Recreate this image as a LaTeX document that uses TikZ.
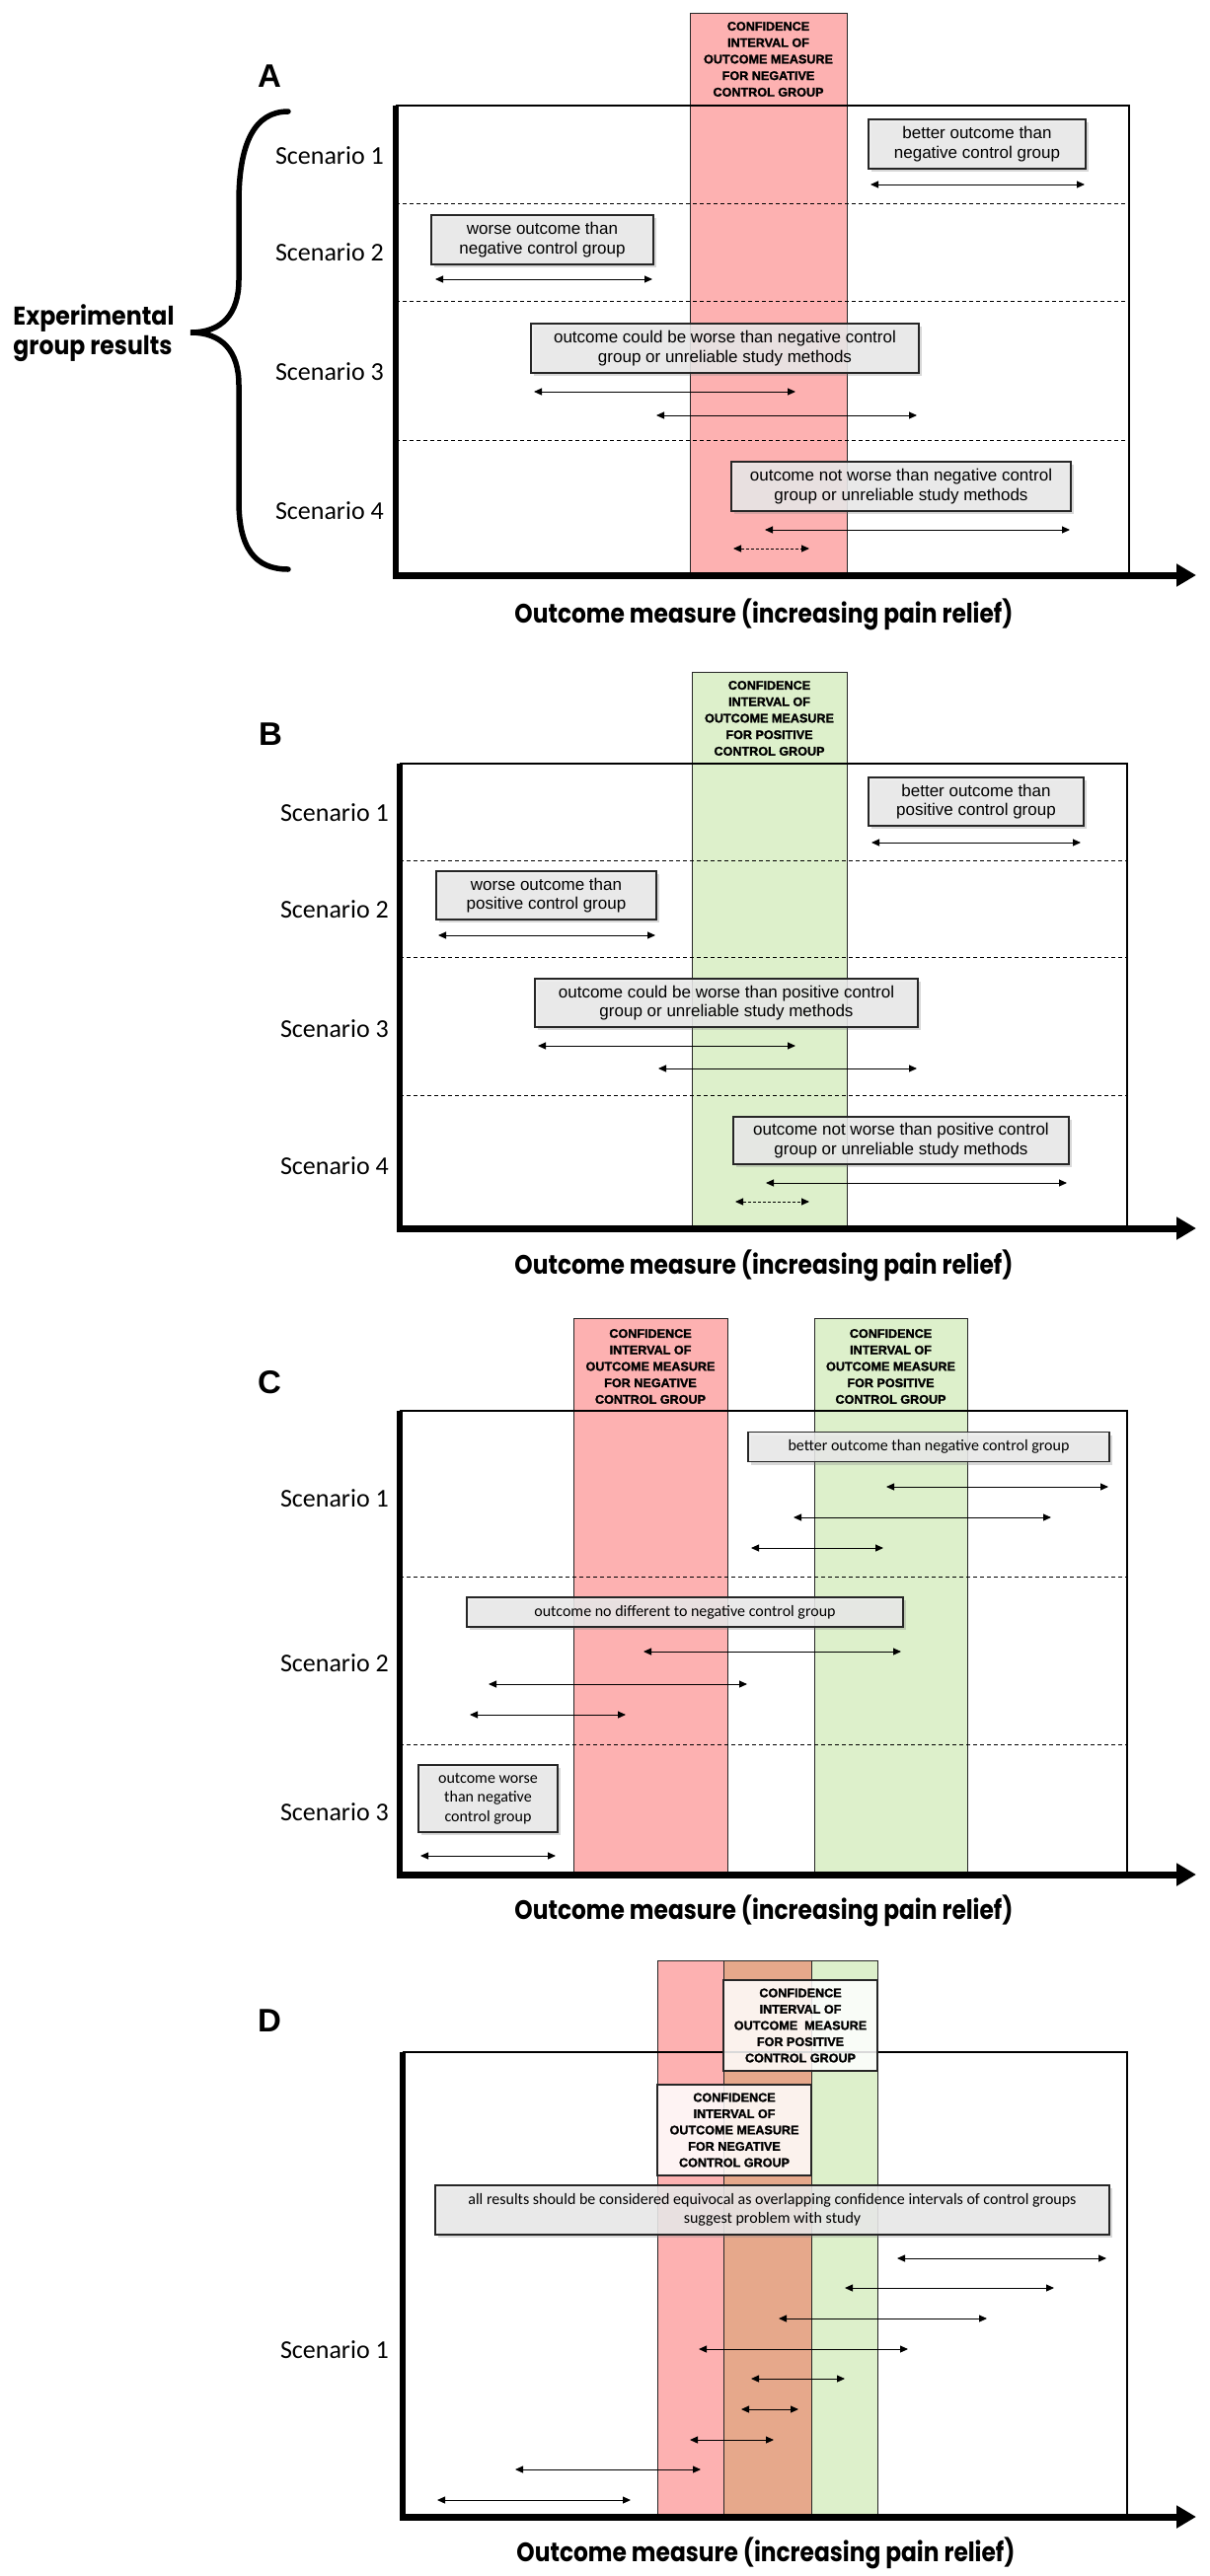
\documentclass[tikz,border=0pt]{standalone}
\usepackage{fontspec}
\usepackage{graphicx}
\setmainfont{Liberation Sans}
\newfontfamily\calfont{Carlito}
\newfontfamily\geofont{Poppins}
\newfontfamily\heavyfont{Liberation Sans}[BoldFeatures={FakeBold=1.6}]
\usetikzlibrary{arrows.meta,shadows}
\definecolor{negc}{HTML}{FDB1B1}
\definecolor{posc}{HTML}{DDF0CB}
\definecolor{ovlc}{HTML}{E6A88B}
\definecolor{boxc}{HTML}{ECECEC}
\newcommand\ivline[5][]{\coordinate (#2l) at (#3,#5); \coordinate (#2r) at (#4,#5); \draw[ivl,#1] (#2l) -- (#2r);}
\tikzset{
 frame/.style={line width=1.2pt},
 leftax/.style={line width=5.5pt},
 xaxis/.style={line width=7pt,-{Triangle[length=20pt,width=22pt]}},
 sepline/.style={dash pattern=on 4pt off 3pt,line width=1pt},
 band/.style={draw=black!85,line width=0.9pt},
 cilabel/.style={font=\heavyfont\bfseries\fontsize{12.6}{16.7}\selectfont,align=center,inner sep=0pt},
 cbox/.style={draw=black!85,line width=1.3pt,fill=boxc,fill opacity=0.85,text opacity=1,
   drop shadow={shadow xshift=2.5pt,shadow yshift=-3pt,opacity=0.3},align=center,
   font=\fontsize{17}{19.4}\selectfont,inner sep=0pt},
 cboxc/.style={cbox,font=\calfont\fontsize{16}{19.5}\selectfont},
 cibox/.style={draw=black!85,line width=1.2pt,fill=white,fill opacity=0.85,text opacity=1,
   align=center,inner sep=0pt,font=\heavyfont\bfseries\fontsize{12.6}{16.5}\selectfont},
 scen/.style={font=\calfont\fontsize{26}{30}\selectfont,anchor=east,inner sep=0pt},
 plabel/.style={font=\fontsize{33}{36}\selectfont\bfseries,inner sep=0pt},
 axlabel/.style={font=\geofont\bfseries\fontsize{27}{30}\selectfont,inner sep=0pt},
 ivl/.style={line width=1pt,{Triangle[length=8pt,width=7pt]}-{Triangle[length=8pt,width=7pt]}},
}
\begin{document}
\begin{tikzpicture}[x=1pt,y=-1pt]
\useasboundingbox (0,0) rectangle (1226,2611);
\fill[white] (0,0) rectangle (1226,2611);

%%%%%%%%%%%%%%%% PANEL A
\fill[negc] (699,13) rectangle (858,583);
\draw[band] (699,583) -- (699,13) -- (858,13) -- (858,583);
\node[cilabel] (ciA) at (778.5,60) {CONFIDENCE\\INTERVAL OF\\OUTCOME MEASURE\\FOR NEGATIVE\\CONTROL GROUP};
\draw[frame] (401,107) -- (1144,107) -- (1144,583);
\draw[sepline] (401,206) -- (1144,206);
\draw[sepline] (401,305) -- (1144,305);
\draw[sepline] (401,446) -- (1144,446);
\draw[leftax] (401,107) -- (401,586);
\coordinate (axA0) at (398,583); \coordinate (axA1) at (1212,583);
\draw[xaxis] (axA0) -- (axA1);
\node[plabel] (lA) at (273,77) {A};
\draw[line width=5.5pt,line cap=round] (292,113) .. controls (258,113) and (242,145) .. (242,205)
  -- (242,284) .. controls (242,318) and (225,337) .. (193,337)
  .. controls (225,337) and (242,356) .. (242,390)
  -- (242,508) .. controls (242,555) and (258,577) .. (292,577);
\node[font=\geofont\bfseries\fontsize{26}{30}\selectfont,align=left,inner sep=0pt] (exp) at (95,338)
  {\resizebox{163pt}{\height}{Experimental}\\\resizebox{161pt}{\height}{group results}};
\node[scen] (sA1) at (389,158) {Scenario 1};
\node[scen] (sA2) at (389,256) {Scenario 2};
\node[scen] (sA3) at (389,377) {Scenario 3};
\node[scen] (sA4) at (389,518) {Scenario 4};
\node[cbox,minimum width=220pt,minimum height=50pt] (bA1) at (990,146) {better outcome than\\negative control group};
\node[cbox,minimum width=225pt,minimum height=50pt] (bA2) at (549.5,243) {worse outcome than\\negative control group};
\node[cbox,minimum width=393pt,minimum height=50pt] (bA3) at (734.5,353) {outcome could be worse than negative control\\group or unreliable study methods};
\node[cbox,minimum width=344pt,minimum height=50pt] (bA4) at (913,493) {outcome not worse than negative control\\group or unreliable study methods};
\ivline{iA1}{882}{1099}{187}
\ivline{iA2}{441}{661}{283}
\ivline{iA3}{541}{806}{397}
\ivline{iA4}{665}{929}{421}
\ivline{iA5}{775}{1084}{537}
\ivline[dash pattern=on 3pt off 2pt]{iA6}{743}{820}{556}
\node[axlabel] (xA) at (774,623) {\resizebox{505pt}{\height}{Outcome measure (increasing pain relief)}};

%%%%%%%%%%%%%%%% PANEL B
\fill[posc] (701,681) rectangle (858,1245);
\draw[band] (701,1245) -- (701,681) -- (858,681) -- (858,1245);
\node[cilabel] (ciB) at (779.5,728) {CONFIDENCE\\INTERVAL OF\\OUTCOME MEASURE\\FOR POSITIVE\\CONTROL GROUP};
\draw[frame] (405,774) -- (1142,774) -- (1142,1245);
\draw[sepline] (405,872) -- (1142,872);
\draw[sepline] (405,970) -- (1142,970);
\draw[sepline] (405,1110) -- (1142,1110);
\draw[leftax] (405,774) -- (405,1248);
\coordinate (axB0) at (402,1245); \coordinate (axB1) at (1212,1245);
\draw[xaxis] (axB0) -- (axB1);
\node[plabel] (lB) at (274,744) {B};
\node[scen] (sB1) at (394,824) {Scenario 1};
\node[scen] (sB2) at (394,922) {Scenario 2};
\node[scen] (sB3) at (394,1043) {Scenario 3};
\node[scen] (sB4) at (394,1182) {Scenario 4};
\node[cbox,minimum width=218pt,minimum height=49pt] (bB1) at (989,812.5) {better outcome than\\positive control group};
\node[cbox,minimum width=223pt,minimum height=49pt] (bB2) at (553.5,907.5) {worse outcome than\\positive control group};
\node[cbox,minimum width=388pt,minimum height=49pt] (bB3) at (736,1016.5) {outcome could be worse than positive control\\group or unreliable study methods};
\node[cbox,minimum width=340pt,minimum height=48pt] (bB4) at (913,1156) {outcome not worse than positive control\\group or unreliable study methods};
\ivline{iB1}{883}{1095}{854}
\ivline{iB2}{444}{664}{948}
\ivline{iB3}{545}{806}{1060}
\ivline{iB4}{667}{929}{1083}
\ivline{iB5}{776}{1081}{1199}
\ivline[dash pattern=on 3pt off 2pt]{iB6}{745}{820}{1218}
\node[axlabel] (xB) at (774,1283) {\resizebox{505pt}{\height}{Outcome measure (increasing pain relief)}};

%%%%%%%%%%%%%%%% PANEL C
\fill[negc] (581,1336) rectangle (737,1900);
\draw[band] (581,1900) -- (581,1336) -- (737,1336) -- (737,1900);
\fill[posc] (825,1336) rectangle (980,1900);
\draw[band] (825,1900) -- (825,1336) -- (980,1336) -- (980,1900);
\node[cilabel] (ciCn) at (659,1385) {CONFIDENCE\\INTERVAL OF\\OUTCOME MEASURE\\FOR NEGATIVE\\CONTROL GROUP};
\node[cilabel] (ciCp) at (902.5,1385) {CONFIDENCE\\INTERVAL OF\\OUTCOME MEASURE\\FOR POSITIVE\\CONTROL GROUP};
\draw[frame] (405,1430) -- (1142,1430) -- (1142,1900);
\draw[sepline] (405,1598) -- (1142,1598);
\draw[sepline] (405,1768) -- (1142,1768);
\draw[leftax] (405,1430) -- (405,1903);
\coordinate (axC0) at (402,1900); \coordinate (axC1) at (1212,1900);
\draw[xaxis] (axC0) -- (axC1);
\node[plabel] (lC) at (273,1401) {C};
\node[scen] (sC1) at (394,1519) {Scenario 1};
\node[scen] (sC2) at (394,1686) {Scenario 2};
\node[scen] (sC3) at (394,1837) {Scenario 3};
\node[cboxc,minimum width=366pt,minimum height=30pt] (bC1) at (941,1466.5) {better outcome than negative control group};
\node[cboxc,minimum width=442pt,minimum height=30pt] (bC2) at (694,1634) {outcome no different to negative control group};
\node[cboxc,minimum width=141pt,minimum height=68pt] (bC3) at (494.5,1823) {outcome worse\\than negative\\control group};
\ivline{iC1}{898}{1123}{1507}
\ivline{iC2}{804}{1065}{1538}
\ivline{iC3}{761}{895}{1569}
\ivline{iC4}{652}{913}{1674}
\ivline{iC5}{495}{757}{1707}
\ivline{iC6}{476}{634}{1738}
\ivline{iC7}{426}{563}{1881}
\node[axlabel] (xC) at (774,1937) {\resizebox{505pt}{\height}{Outcome measure (increasing pain relief)}};

%%%%%%%%%%%%%%%% PANEL D
\fill[negc] (666,1987) rectangle (733,2551);
\fill[ovlc] (733,1987) rectangle (822,2551);
\fill[posc] (822,1987) rectangle (889,2551);
\draw[band] (666,2551) -- (666,1987) -- (889,1987) -- (889,2551);
\draw[band] (733,1987) -- (733,2551);
\draw[band] (822,1987) -- (822,2551);
\draw[frame] (408,2080) -- (1142,2080) -- (1142,2551);
\node[cibox,minimum width=156pt,minimum height=92pt] (ciDp) at (811,2053) {CONFIDENCE\\INTERVAL OF\\OUTCOME\ \ MEASURE\\FOR POSITIVE\\CONTROL GROUP};
\node[cibox,minimum width=156pt,minimum height=92pt] (ciDn) at (744,2159) {CONFIDENCE\\INTERVAL OF\\OUTCOME MEASURE\\FOR NEGATIVE\\CONTROL GROUP};
\draw[leftax] (408,2080) -- (408,2554);
\coordinate (axD0) at (405,2551); \coordinate (axD1) at (1212,2551);
\draw[xaxis] (axD0) -- (axD1);
\node[plabel] (lD) at (273,2048) {D};
\node[scen] (sD1) at (394,2382) {Scenario 1};
\node[cboxc,minimum width=683pt,minimum height=50pt] (bD1) at (782.5,2240) {all results should be considered equivocal as overlapping confidence intervals of control groups\\suggest problem with study};
\ivline{iD1}{909}{1121}{2289}
\ivline{iD2}{856}{1068}{2319}
\ivline{iD3}{789}{1000}{2350}
\ivline{iD4}{708}{920}{2381}
\ivline{iD5}{761}{856}{2411}
\ivline{iD6}{751}{809}{2442}
\ivline{iD7}{699}{784}{2473}
\ivline{iD8}{522}{710}{2503}
\ivline{iD9}{443}{639}{2534}
\node[axlabel] (xD) at (776,2588) {\resizebox{505pt}{\height}{Outcome measure (increasing pain relief)}};
\end{tikzpicture}
\end{document}
